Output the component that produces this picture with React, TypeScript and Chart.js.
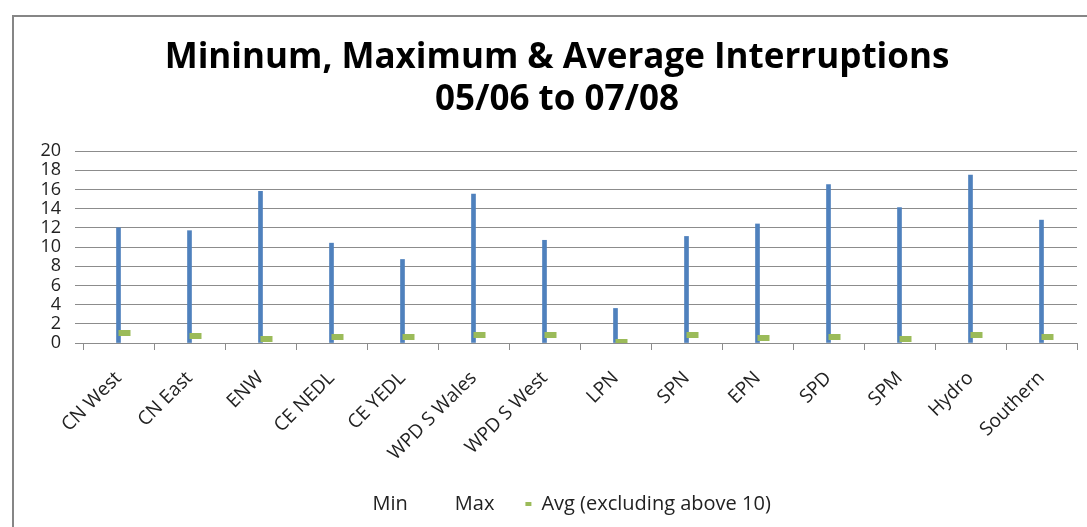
import { useEffect, useRef } from 'react';
import { Chart, registerables } from 'chart.js';

Chart.register(...registerables);

const categories = ['CN West', 'CN East', 'ENW', 'CE NEDL', 'CE YEDL', 'WPD S Wales', 'WPD S West', 'LPN', 'SPN', 'EPN', 'SPD', 'SPM', 'Hydro', 'Southern'];
const minValues = [0, 0, 0, 0, 0, 0, 0, 0, 0, 0, 0, 0, 0, 0];
const maxValues = [12.0, 11.7, 15.8, 10.4, 8.7, 15.5, 10.7, 3.6, 11.1, 12.4, 16.5, 14.1, 17.5, 12.8];
const avgValues = [1.0, 0.7, 0.4, 0.6, 0.65, 0.85, 0.8, 0.1, 0.8, 0.5, 0.6, 0.4, 0.85, 0.6];
const titleLines = ['Mininum, Maximum & Average Interruptions', '05/06 to 07/08'];
const legendLabels = ['Min', 'Max', 'Avg (excluding above 10)'];

const FONT = '"Open Sans", Lato, sans-serif';
const BLUE = '#4F81BD';
const GREEN = '#9BBB59';
const GRID = '#8C8C8C';

function makeAvgMarker(): HTMLCanvasElement {
  const c = document.createElement('canvas');
  c.width = 26;
  c.height = 6;
  const g = c.getContext('2d')!;
  g.fillStyle = GREEN;
  g.fillRect(13, 0, 12, 6);
  return c;
}

const framePlugin = {
  id: 'frame',
  beforeDraw(chart: any) {
    const ctx = chart.ctx;
    ctx.save();
    ctx.fillStyle = '#ffffff';
    ctx.fillRect(0, 0, chart.width, chart.height);
    ctx.strokeStyle = '#868686';
    ctx.lineWidth = 2;
    ctx.strokeRect(13, 16, chart.width + 50, chart.height + 50);
    ctx.restore();
  },
};

export default function App() {
  const ref = useRef<HTMLCanvasElement | null>(null);
  useEffect(() => {
    document.body.style.margin = '0';
    const marker = makeAvgMarker();
    const chart = new Chart(ref.current!, {
      type: 'bar',
      data: {
        labels: categories,
        datasets: [
          {
            type: 'bar',
            label: 'Range',
            data: minValues.map((m, i) => [m, maxValues[i]]) as any,
            backgroundColor: BLUE,
            barThickness: 4,
            grouped: false,
            order: 2,
          },
          {
            type: 'line',
            label: legendLabels[0],
            data: minValues,
            showLine: false,
            pointRadius: 0,
            order: 1,
          },
          {
            type: 'line',
            label: legendLabels[1],
            data: maxValues,
            showLine: false,
            pointRadius: 0,
            order: 1,
          },
          {
            type: 'line',
            label: legendLabels[2],
            data: avgValues,
            showLine: false,
            pointStyle: marker as any,
            pointRadius: 6,
            order: 0,
          },
        ] as any,
      },
      options: {
        animation: false,
        responsive: false,
        maintainAspectRatio: false,
        layout: { padding: { left: 37, right: 10, top: 0, bottom: 3 } },
        plugins: {
          title: {
            display: true,
            text: titleLines,
            color: '#000000',
            font: { family: FONT, size: 35, weight: 'bold', lineHeight: 1.2 },
            padding: { top: 37, bottom: 30 },
          },
          legend: {
            display: true,
            position: 'bottom',
            labels: {
              font: { family: FONT, size: 20 },
              color: '#222222',
              boxWidth: 6,
              boxHeight: 4,
              padding: 31,
              generateLabels: () =>
                legendLabels.map((t, i) => ({
                  text: i === 0 ? '\u2002\u2009' + t : t,
                  fillStyle: i === 2 ? GREEN : 'rgba(0,0,0,0)',
                  strokeStyle: 'rgba(0,0,0,0)',
                  lineWidth: 0,
                  hidden: false,
                  datasetIndex: i + 1,
                  fontColor: '#222222',
                })),
            },
          },
          tooltip: { enabled: false },
        },
        scales: {
          x: {
            type: 'category',
            offset: true,
            afterFit: (s: any) => {
              s.height = 120;
            },
            grid: {
              display: true,
              offset: true,
              drawOnChartArea: false,
              drawTicks: true,
              tickLength: 7,
              color: GRID,
            },
            border: { display: true, color: GRID, width: 1 },
            ticks: {
              minRotation: 45,
              maxRotation: 45,
              autoSkip: false,
              padding: 17,
              color: '#222222',
              font: { family: FONT, size: 19 },
            },
          },
          y: {
            min: 0,
            max: 20,
            afterFit: (s: any) => {
              s.width = 46;
            },
            grid: {
              display: true,
              drawTicks: true,
              tickLength: 8,
              color: GRID,
            },
            border: { display: false },
            ticks: {
              stepSize: 2,
              autoSkip: false,
              padding: 14,
              color: '#222222',
              font: { family: FONT, size: 18, lineHeight: 1 },
            },
          },
        },
      },
      plugins: [framePlugin],
    });
    return () => chart.destroy();
  }, []);
  return (
    <div style={{ position: 'absolute', left: 0, top: 0, width: 1087, height: 527 }}>
      <canvas ref={ref} width={1087} height={527} style={{ width: 1087, height: 527 }} />
    </div>
  );
}
